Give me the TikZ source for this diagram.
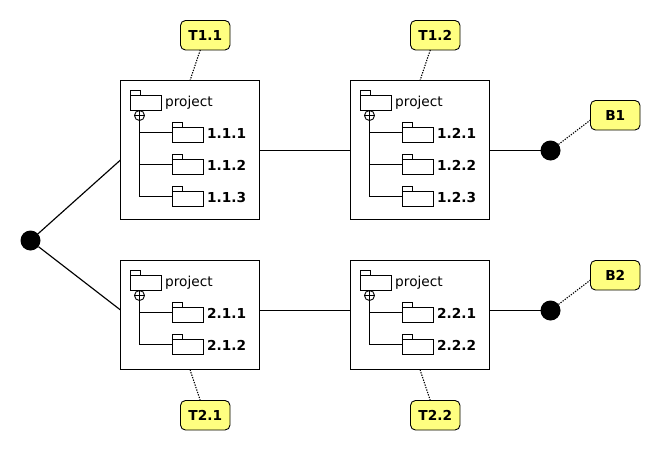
\documentclass[tikz,border=0pt]{standalone}
\usepackage{fontspec}
\setmainfont{DejaVu Sans}
\usetikzlibrary{positioning}
\definecolor{note-yellow}{HTML}{FFFF80}
\tikzset{
	pkgbox/.style={draw,line width=1.1pt,fill=white,minimum width=139pt,anchor=north west,inner sep=0pt,outer sep=0pt},
	folder/.style={minimum width=31pt,minimum height=20pt,inner sep=0pt,outer sep=0pt},
	plusmark/.style={draw,circle,line width=.9pt,minimum size=10pt,inner sep=0pt,outer sep=0pt},
	pkgname/.style={anchor=base west,inner sep=0pt,font=\fontsize{13.7}{15}\selectfont},
	subname/.style={anchor=base west,inner sep=0pt,font=\fontsize{13.7}{15}\selectfont\bfseries},
	notebox/.style={draw,line width=.9pt,fill=note-yellow,rounded corners=5pt,minimum width=49.5pt,minimum height=29.5pt,inner sep=0pt,outer sep=0pt,font=\fontsize{13.7}{15}\selectfont\bfseries},
	joint/.style={circle,fill=black,minimum size=20pt,inner sep=0pt,outer sep=0pt},
	wire/.style={line width=1.15pt},
	noteline/.style={line width=1.1pt,dash pattern=on 1.3pt off 1.3pt}
}
\newcommand{\foldericon}[1]{
	\draw[line width=1pt,fill=white] (#1.south west) rectangle ([yshift=-5pt]#1.north east);
	\draw[line width=1pt,fill=white] ([yshift=-5pt]#1.north west) rectangle ([xshift=10.5pt]#1.north west);
}
% name, number, left, top, height, children
\newcommand{\projectbox}[6]{
	\node[pkgbox,minimum height=#5pt] (box#1) at (#3,#4) {};
	\node[folder,anchor=north west] (top#1) at (#3+9.5,#4+9.5) {};
	\foldericon{top#1}
	\node[pkgname] (name#1) at (#3+44.5,#4+25.5) {project};
	\node[plusmark] (plus#1) at (#3+19,#4+35) {};
	\draw[line width=.9pt] (plus#1.north) -- (plus#1.south) (plus#1.west) -- (plus#1.east);
	\foreach \n [count=\i from 0] in {#6} {
		\node[folder,anchor=north west] (sub#1\n) at (#3+51.5,#4+41.5+32*\i) {};
		\foldericon{sub#1\n}
		\node[subname] (label#1\n) at (#3+86.5,#4+58+32*\i) {#2.\n};
		\draw[line width=1pt] (plus#1.south) |- (sub#1\n.west);
	}
}
\begin{document}
\begin{tikzpicture}[x=1pt,y=-1pt]
	\useasboundingbox (0,0) rectangle (660,450);
	\projectbox{a}{1.1}{120.5}{80.5}{139}{1,2,3}
	\projectbox{b}{1.2}{350.5}{80.5}{139}{1,2,3}
	\projectbox{c}{2.1}{120.5}{260.5}{109}{1,2}
	\projectbox{d}{2.2}{350.5}{260.5}{109}{1,2}

	\node[joint] (start) at (30.5,240.5) {};
	\node[joint] (endb1) at (550.5,150.5) {};
	\node[joint] (endb2) at (550.5,310.5) {};

	\node[notebox] (t11) at (205.25,35.25) {T1.1};
	\node[notebox] (t12) at (435.25,35.25) {T1.2};
	\node[notebox] (t21) at (205.25,415.25) {T2.1};
	\node[notebox] (t22) at (435.25,415.25) {T2.2};
	\node[notebox] (b1) at (615.25,115.25) {B1};
	\node[notebox] (b2) at (615.25,275.25) {B2};

	\draw[wire] (start) -- ([yshift=-10pt]boxa.west);
	\draw[wire] (start) -- ([yshift=5pt]boxc.west);
	\draw[wire] ([yshift=-.5pt]boxa.east) -- ([yshift=-.5pt]boxb.west);
	\draw[wire] ([yshift=4.5pt]boxc.east) -- ([yshift=4.5pt]boxd.west);
	\draw[wire] ([yshift=-.5pt]boxb.east) -- (endb1);
	\draw[wire] ([yshift=4.5pt]boxd.east) -- (endb2);

	\draw[noteline] ([xshift=-5pt]t11.south) -- (boxa.north);
	\draw[noteline] ([xshift=-5pt]t12.south) -- (boxb.north);
	\draw[noteline] ([xshift=-5pt]t21.north) -- (boxc.south);
	\draw[noteline] ([xshift=-5pt]t22.north) -- (boxd.south);
	\draw[noteline] ([yshift=10pt]b1.south west) -- (endb1);
	\draw[noteline] ([yshift=10pt]b2.south west) -- (endb2);
\end{tikzpicture}
\end{document}
